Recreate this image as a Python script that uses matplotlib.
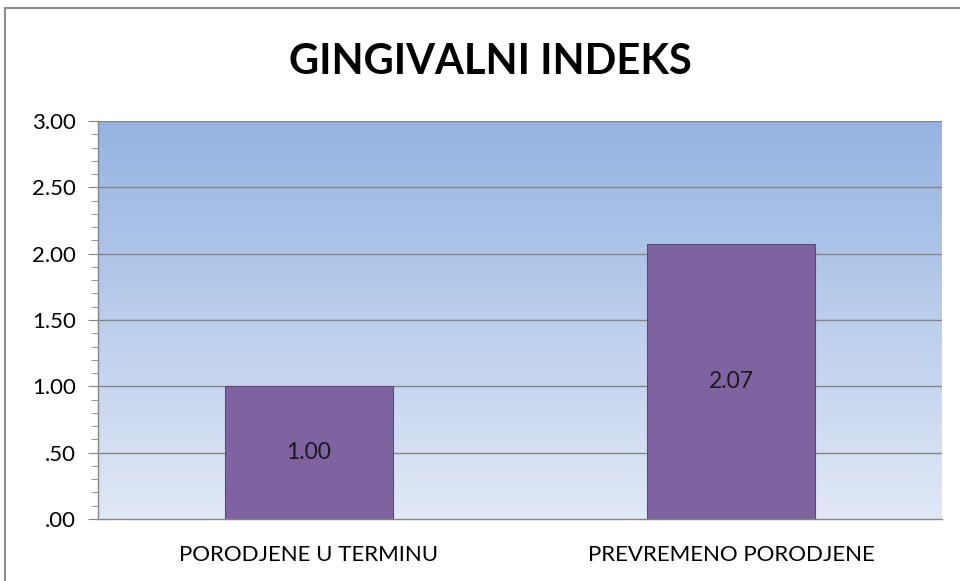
import matplotlib
matplotlib.use("Agg")
import matplotlib.pyplot as plt
import numpy as np
from matplotlib.ticker import MultipleLocator, FuncFormatter
from matplotlib.patches import Rectangle
from matplotlib.colors import LinearSegmentedColormap

categories = ["PORODJENE U TERMINU", "PREVREMENO PORODJENE"]
values = [1.00, 2.07]
title = "GINGIVALNI INDEKS"

plt.rcParams['font.family'] = ['Lato', 'DejaVu Sans']

fig = plt.figure(figsize=(9.6, 5.81), dpi=100)
fig.patch.set_facecolor('white')
fig.add_artist(Rectangle((5/960, -0.01), 1.0, 1 - 8/581 + 0.01, transform=fig.transFigure,
                         fill=False, edgecolor='#8c8c8c', linewidth=1.5))

ax = fig.add_axes([98/960, 62/581, 844/960, 398/581])
x = np.arange(len(categories))

# gradient background
grad = np.linspace(0, 1, 256).reshape(-1, 1)
cmap = LinearSegmentedColormap.from_list('bg', ['#E1E8F6', '#95B3E2'])
ax.imshow(grad, cmap=cmap, aspect='auto', extent=[-0.5, 1.5, 0, 3], origin='lower', zorder=0)

ax.set_xlim(-0.5, 1.5)
ax.set_ylim(0, 3)
for yv in np.arange(0.5, 3.01, 0.5):
    ax.axhline(yv, color='#868686', linewidth=1.0, zorder=1)

bars = ax.bar(x, values, width=0.4, color='#7F63A0', edgecolor='#5E4A7A', linewidth=0.8, zorder=2)
for xi, v in zip(x, values):
    ax.text(xi, v / 2, f"{v:.2f}", ha='center', va='center', fontsize=16.5, color='#1a1a1a', zorder=3)

ax.set_xticks(x)
ax.set_xticklabels(categories, fontsize=16)
ax.tick_params(axis='x', length=0, pad=19)
ax.yaxis.set_major_locator(MultipleLocator(0.5))
ax.yaxis.set_minor_locator(MultipleLocator(0.1))
ax.yaxis.set_major_formatter(FuncFormatter(lambda v, p: f"{v:.2f}".lstrip('0') if v < 1 else f"{v:.2f}"))
ax.tick_params(axis='y', which='major', length=7, color='#868686', labelsize=16, pad=9)
ax.tick_params(axis='y', which='minor', length=5, color='#868686')
for s in ['top', 'right']:
    ax.spines[s].set_visible(False)
for s in ['left', 'bottom']:
    ax.spines[s].set_color('#868686')
    ax.spines[s].set_linewidth(1.0)

fig.text(490/960, 1 - 62/581, title, ha='center', va='center', fontsize=30, fontweight='bold', color='black')

fig.savefig('out.png', dpi=100)
